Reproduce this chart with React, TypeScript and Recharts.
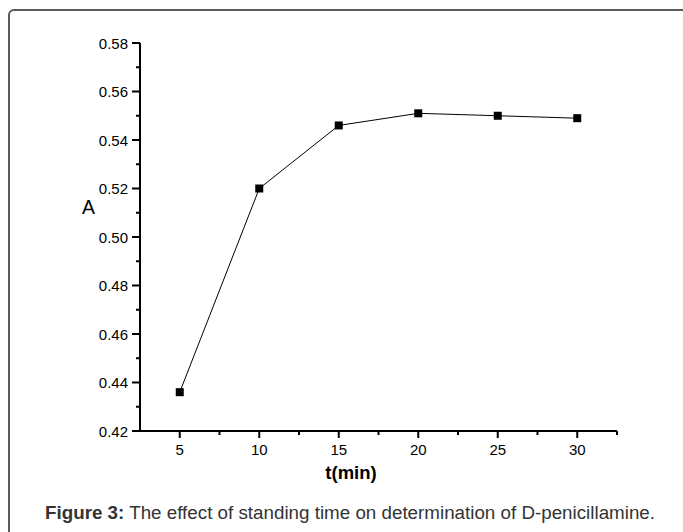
import { LineChart, Line, XAxis, YAxis, Label } from 'recharts'

// standing time (min) vs absorbance
const times = [5, 10, 15, 20, 25, 30]
const absorbance = [0.436, 0.52, 0.546, 0.551, 0.55, 0.549]

const xMajorTicks = [5, 10, 15, 20, 25, 30]
const xMinorTicks = [7.5, 12.5, 17.5, 22.5, 27.5, 32.5]
const yMajorTicks = [0.42, 0.44, 0.46, 0.48, 0.5, 0.52, 0.54, 0.56, 0.58]
const yMinorTicks = [0.43, 0.45, 0.47, 0.49, 0.51, 0.53, 0.55, 0.57]

const data = times.map((t, i) => ({ t, a: absorbance[i] }))
const xTicks = [...xMajorTicks, ...xMinorTicks].sort((a, b) => a - b)
const yTicks = [...yMajorTicks, ...yMinorTicks].sort((a, b) => a - b)

const font = '"Liberation Sans", Arial, sans-serif'

function XTick(props: any) {
  const { x, y, payload } = props
  const major = xMajorTicks.includes(payload.value)
  const axisY = y - 7
  return (
    <g>
      <line x1={x} x2={x} y1={axisY} y2={axisY + (major ? 7 : 4)} stroke="#000" strokeWidth={2} />
      {major && (
        <text x={x} y={axisY + 24} textAnchor="middle" fontSize={15} fontFamily={font} fill="#000">
          {payload.value}
        </text>
      )}
    </g>
  )
}

function YTick(props: any) {
  const { x, y, payload } = props
  const major = yMajorTicks.includes(payload.value)
  const axisX = x + 7
  return (
    <g>
      <line x1={axisX - (major ? 8 : 4)} x2={axisX} y1={y} y2={y} stroke="#000" strokeWidth={2} />
      {major && (
        <text x={axisX - 12} y={y + 5.5} textAnchor="end" fontSize={15} fontFamily={font} fill="#000">
          {payload.value.toFixed(2)}
        </text>
      )}
    </g>
  )
}

function SquareDot(props: any) {
  const { cx, cy } = props
  if (cx == null || cy == null) return null
  return <rect x={cx - 4} y={cy - 4} width={8} height={8} fill="#000" />
}

export default function App() {
  return (
    <div style={{ position: 'absolute', left: 0, top: 0, width: 683, height: 532, overflow: 'hidden', background: '#fff' }}>
      <div
        style={{
          position: 'absolute',
          left: 8,
          top: 9,
          width: 720,
          height: 580,
          border: '2px solid #5a5a5a',
          borderRadius: 6,
        }}
      />
      <LineChart
        width={683}
        height={532}
        data={data}
        margin={{ top: 43, right: 66, bottom: 71, left: 80 }}
        style={{ position: 'absolute', left: 0, top: 0 }}
      >
        <XAxis
          dataKey="t"
          type="number"
          domain={[2.5, 32.5]}
          ticks={xTicks}
          interval={0}
          tick={<XTick />}
          tickSize={7}
          tickMargin={0}
          tickLine={false}
          axisLine={{ stroke: '#000', strokeWidth: 2 }}
          height={30}
        >
          <Label
            content={() => (
              <text x={351} y={479} textAnchor="middle" fontSize={18.5} fontWeight="bold" fontFamily={font} fill="#000">
                t(min)
              </text>
            )}
          />
        </XAxis>
        <YAxis
          type="number"
          domain={[0.42, 0.58]}
          ticks={yTicks}
          interval={0}
          tick={<YTick />}
          tickSize={7}
          tickMargin={0}
          tickLine={false}
          axisLine={{ stroke: '#000', strokeWidth: 2 }}
          width={60}
        >
          <Label
            content={() => (
              <text x={88.5} y={214} textAnchor="middle" fontSize={19.5} fontFamily={font} fill="#000">
                A
              </text>
            )}
          />
        </YAxis>
        <Line
          type="linear"
          dataKey="a"
          stroke="#000"
          strokeWidth={1}
          dot={<SquareDot />}
          activeDot={false}
          isAnimationActive={false}
        />
      </LineChart>
      <div
        style={{
          position: 'absolute',
          left: 45,
          top: 502,
          fontFamily: font,
          fontSize: 18.8,
          lineHeight: '22px',
          color: '#333',
          whiteSpace: 'nowrap',
        }}
      >
        <b>Figure 3:</b> The effect of standing time on determination of D-penicillamine.
      </div>
    </div>
  )
}
